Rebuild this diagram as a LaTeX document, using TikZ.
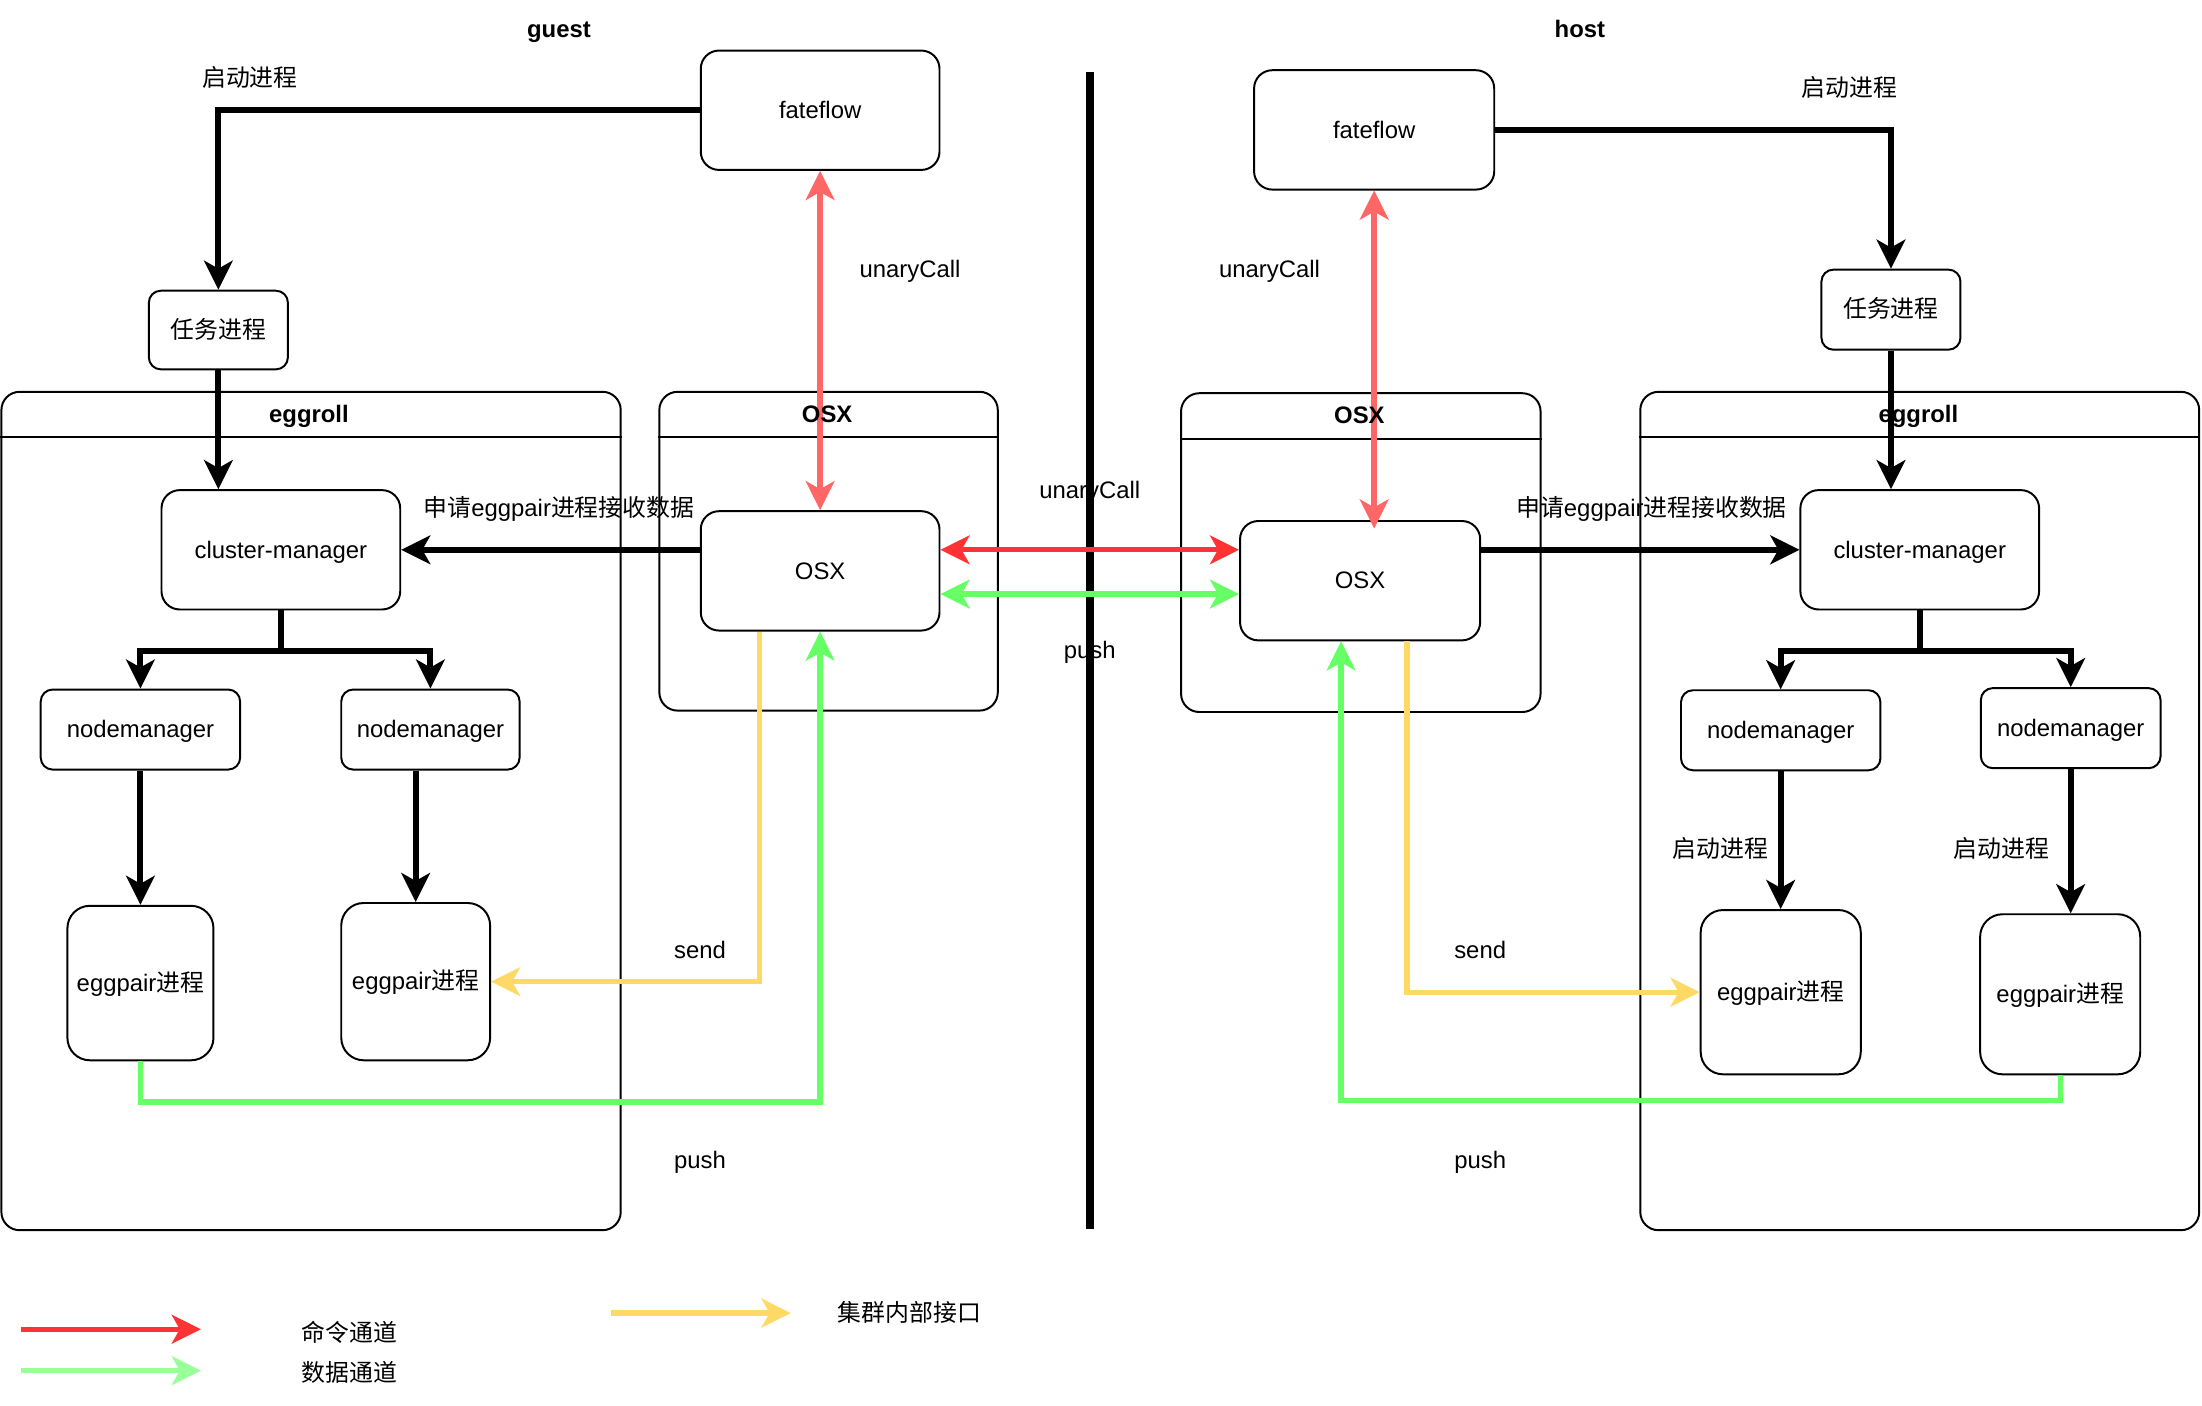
\documentclass[tikz,border=0pt]{standalone}
\usepackage{fontspec}
\setmainfont{Liberation Sans}
\newfontfamily\cjk{Noto Sans CJK SC}
\usetikzlibrary{arrows.meta,calc}
\definecolor{cred}{HTML}{FF3333}
\definecolor{lred}{HTML}{FF6666}
\definecolor{cgreen}{HTML}{66FF66}
\definecolor{lgreen}{HTML}{99FF99}
\definecolor{cyellow}{HTML}{FFD966}
\begin{document}
\begin{tikzpicture}[x=1pt,y=-1pt,
  font=\fontsize{17}{20}\selectfont,
  every node/.append style={text height=15.4pt, text depth=3.6pt},
  box/.style={draw, fill=white, line width=1.4pt, rounded corners=#1, inner sep=0pt},
  box/.default=12pt,
  cont/.style={draw, line width=1.4pt, rounded corners=13pt, inner sep=0pt},
  hdr/.style={line width=1.4pt},
  lbl/.style={inner sep=0pt},
  ttl/.style={inner sep=0pt, font=\fontsize{17}{20}\selectfont\bfseries},
  tipA/.tip={Stealth[length=21pt,width=21pt,inset=6pt,line width=0pt]},
  blk/.style={line width=4.3pt, -tipA},
  col/.style={line width=3.8pt, -tipA},
  bicol/.style={line width=3.8pt, tipA-tipA},
]
\useasboundingbox (0,0) rectangle (1568,1001);

% ---------- containers ----------
\node[cont, minimum width=441pt, minimum height=597pt] (gegg) at (221.5,577.5) {};
\draw[hdr] (gegg.west |- 0,311) -- (gegg.east |- 0,311);
\node[cont, minimum width=241pt, minimum height=227pt] (gosxc) at (590,392.5) {};
\draw[hdr] (gosxc.west |- 0,311) -- (gosxc.east |- 0,311);
\node[cont, minimum width=256pt, minimum height=227pt] (hosxc) at (969,393.5) {};
\draw[hdr] (hosxc.west |- 0,312.5) -- (hosxc.east |- 0,312.5);
\node[cont, minimum width=398pt, minimum height=597pt] (hegg) at (1367,577.5) {};
\draw[hdr] (hegg.west |- 0,311) -- (hegg.east |- 0,311);

% ---------- divider ----------
\coordinate (dtop) at (776,51);
\coordinate (dbot) at (776,875);
\draw[line width=5.5pt] (dtop) -- (dbot);

% ---------- guest boxes ----------
\node[box=13pt, minimum width=170pt, minimum height=85pt] (gff) at (584,78.5) {fateflow};
\node[box=8.5pt, minimum width=99pt, minimum height=56pt] (gtask) at (155.5,235) {\cjk 任务进程};
\node[box=13pt, minimum width=170pt, minimum height=85pt] (gcm) at (200,391.5) {cluster-manager};
\node[box=8.5pt, minimum width=142pt, minimum height=57pt] (gnm1) at (100,519.5) {nodemanager};
\node[box=8.5pt, minimum width=127pt, minimum height=57pt] (gnm2) at (306.5,519.5) {nodemanager};
\node[box=16pt, minimum width=104pt, minimum height=110pt] (gep1) at (100,700) {eggpair{\cjk 进程}};
\node[box=16pt, minimum width=106pt, minimum height=112pt] (gep2) at (296,699) {eggpair{\cjk 进程}};
\node[box=13pt, minimum width=170pt, minimum height=85pt] (gosx) at (584,406.5) {OSX};

% ---------- host boxes ----------
\node[box=13pt, minimum width=171pt, minimum height=85pt] (hff) at (978.5,92.5) {fateflow};
\node[box=8.5pt, minimum width=99pt, minimum height=57pt] (htask) at (1346.5,220.5) {\cjk 任务进程};
\node[box=13pt, minimum width=170pt, minimum height=85pt] (hcm) at (1367,391.5) {cluster-manager};
\node[box=8.5pt, minimum width=142pt, minimum height=57pt] (hnm3) at (1268,520) {nodemanager};
\node[box=8.5pt, minimum width=128pt, minimum height=57pt] (hnm4) at (1474.5,518.5) {nodemanager};
\node[box=16pt, minimum width=114pt, minimum height=117pt] (hep3) at (1268,706.5) {eggpair{\cjk 进程}};
\node[box=16pt, minimum width=114pt, minimum height=114pt] (hep4) at (1467,708) {eggpair{\cjk 进程}};
\node[box=13pt, minimum width=171pt, minimum height=85pt] (hosx) at (968.5,413.5) {OSX};

% ---------- guest black arrows ----------
\draw[blk] (gff.west) -| (gtask.north);
\draw[blk] (gtask.south) -- (gtask.south |- gcm.north);
\draw[blk] (gcm.south) -- ++(0,29) -| (gnm1.north);
\draw[blk] (gcm.south) -- ++(0,29) -| (gnm2.north);
\draw[blk] (gnm1.south) -- (gep1.north);
\draw[blk] (gep2.north |- gnm2.south) -- (gep2.north);
\draw[blk] (gosx.west |- gcm.east) -- (gcm.east);

% ---------- host black arrows ----------
\draw[blk] (hff.east) -| (htask.north);
\draw[blk] (htask.south) -- (htask.south |- hcm.north);
\draw[blk] (hcm.south) -- ++(0,29) -| (hnm3.north);
\draw[blk] (hcm.south) -- ++(0,29) -| (hnm4.north);
\draw[blk] (hnm3.south) -- (hep3.north);
\draw[blk] (hnm4.south) -- (hnm4.south |- hep4.north);
\draw[blk] (hosx.east |- hcm.west) -- (hcm.west);

% ---------- coloured connectors ----------
\draw[bicol, lred] (gff.south) -- (gosx.north);
\draw[bicol, lred] (hff.south) -- ($(hff.south |- hosx.north)+(0,6)$);
\draw[bicol, cred] (gosx.east |- gcm.east) -- (hosx.west |- gcm.east);
\draw[bicol, cgreen] ([yshift=-16.5pt]gosx.east) -- ([yshift=-16.5pt]gosx.east -| hosx.west);
\draw[col, cyellow] ([xshift=-43pt]gosx.south) |- (gep2.east);
\draw[col, cgreen] (gep1.south) -- ++(0,29) -| (gosx.south);
\draw[col, cyellow] ([xshift=33.5pt]hosx.south) |- (hep3.west);
\draw[col, cgreen] (hep4.south) -- ++(0,18) -| ([xshift=-13.5pt]hosx.south);

% ---------- titles and labels ----------
\node[ttl] (tguest) at (398,21) {guest};
\node[ttl] (thost) at (1125,21) {host};
\node[ttl] (tgegg) at (220,295) {eggroll};
\node[ttl] (theegg) at (1366,295) {eggroll};
\node[ttl] (tgosx) at (589,295) {OSX};
\node[ttl] (thosx) at (968,296) {OSX};

\node[lbl] (l1) at (178,56) {\cjk 启动进程};
\node[lbl] (l2) at (1317,63) {\cjk 启动进程};
\node[lbl] (l3) at (648,192) {unaryCall};
\node[lbl] (l4) at (904,192) {unaryCall};
\node[lbl] (l5) at (776,349) {unaryCall};
\node[lbl] (l6) at (776,463) {push};
\node[lbl] (l7) at (398,362) {{\cjk 申请}eggpair{\cjk 进程接收数据}};
\node[lbl] (l8) at (1176,362) {{\cjk 申请}eggpair{\cjk 进程接收数据}};
\node[lbl] (l9) at (1225,604.5) {\cjk 启动进程};
\node[lbl] (l10) at (1425,604.5) {\cjk 启动进程};
\node[lbl] (l11) at (498.5,676.5) {send};
\node[lbl] (l12) at (1054,676.5) {send};
\node[lbl] (l13) at (498.5,826) {push};
\node[lbl] (l14) at (1054,826) {push};

% ---------- legend ----------
\coordinate (lg1a) at (15,946.5);
\coordinate (lg1b) at (143,946.5);
\coordinate (lg2a) at (15,976);
\coordinate (lg2b) at (143,976);
\coordinate (lg3a) at (435,935);
\coordinate (lg3b) at (563,935);
\draw[col, cred] (lg1a) -- (lg1b);
\draw[col, lgreen] (lg2a) -- (lg2b);
\draw[col, cyellow] (lg3a) -- (lg3b);
\node[lbl] (lt1) at (249,949) {\cjk 命令通道};
\node[lbl] (lt2) at (249,977.5) {\cjk 数据通道};
\node[lbl] (lt3) at (647.5,935) {\cjk 集群内部接口};
\end{tikzpicture}
\end{document}
